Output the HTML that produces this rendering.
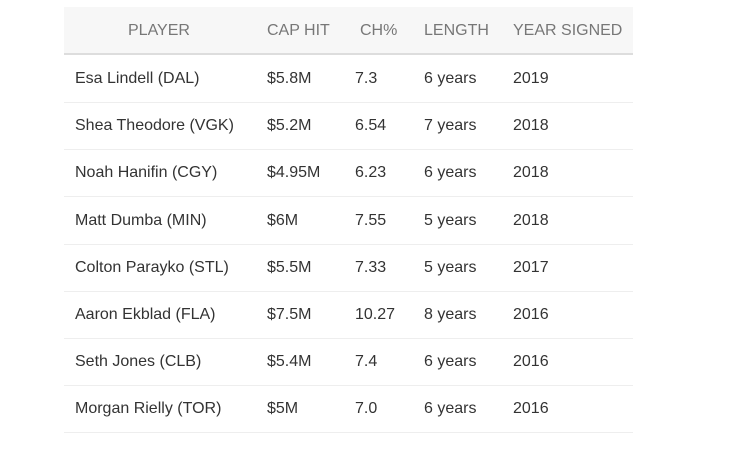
<!DOCTYPE html>
<html><head><meta charset="utf-8"><style>
body{margin:0;width:730px;height:452px;background:#fff;font-family:"Liberation Sans",sans-serif;position:relative;overflow:hidden}
.hdr{position:absolute;left:64px;top:7px;width:569px;height:46px;background:#f7f7f7;border-bottom:2px solid #ddd}
.h{position:absolute;top:22px;font-size:16px;color:#777}
.row{position:absolute;left:64px;width:569px;height:47px;border-bottom:1px solid #eee}
.c{position:absolute;font-size:16px;color:#333;white-space:nowrap}
</style></head><body>
<div class="hdr"></div>
<div class="h" style="left:128px">PLAYER</div>
<div class="h" style="left:267px">CAP HIT</div>
<div class="h" style="left:360px">CH%</div>
<div class="h" style="left:424px">LENGTH</div>
<div class="h" style="left:513px">YEAR SIGNED</div>
<div id="body"></div>
<script>
const players=["Esa Lindell (DAL)","Shea Theodore (VGK)","Noah Hanifin (CGY)","Matt Dumba (MIN)","Colton Parayko (STL)","Aaron Ekblad (FLA)","Seth Jones (CLB)","Morgan Rielly (TOR)"];
const capHits=["$5.8M","$5.2M","$4.95M","$6M","$5.5M","$7.5M","$5.4M","$5M"];
const chPct=["7.3","6.54","6.23","7.55","7.33","10.27","7.4","7.0"];
const lengths=["6 years","7 years","6 years","5 years","5 years","8 years","6 years","6 years"];
const years=["2019","2018","2018","2018","2017","2016","2016","2016"];
const cols=[[players,75,'player'],[capHits,267,'cap-hit'],[chPct,355,'ch-pct'],[lengths,424,'length'],[years,513,'year']];
const b=document.getElementById('body');
players.forEach((p,i)=>{
  const top=55+i*47.2;
  const r=document.createElement('div');r.className='row';r.style.top=top+'px';
  
  
  b.appendChild(r);
  cols.forEach(([arr,x,n])=>{
    const c=document.createElement('div');c.className='c';c.textContent=arr[i];
    c.style.left=x+'px';c.style.top=(top+15)+'px';
    
    
    b.appendChild(c);
  });
});
</script>
</body></html>
